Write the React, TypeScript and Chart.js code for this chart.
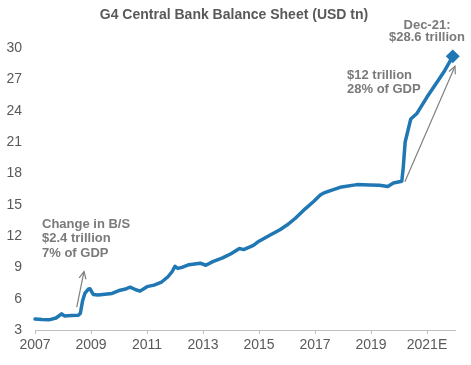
import { useEffect, useRef } from "react";
import { Chart, registerables } from "chart.js";

Chart.register(...registerables);

const dates = [
  2007.0, 2007.25, 2007.5, 2007.75, 2007.95, 2008.05, 2008.3, 2008.55, 2008.62, 2008.7,
  2008.78, 2008.9, 2008.96, 2009.08, 2009.25, 2009.5, 2009.75, 2010.0, 2010.2, 2010.4,
  2010.6, 2010.75, 2011.0, 2011.25, 2011.5, 2011.75, 2011.9, 2012.0, 2012.1, 2012.25,
  2012.5, 2012.9, 2013.1, 2013.35, 2013.7, 2014.0, 2014.3, 2014.45, 2014.8, 2015.0,
  2015.4, 2015.75, 2016.0, 2016.3, 2016.65, 2016.95, 2017.2, 2017.3, 2017.5, 2017.95,
  2018.5, 2018.95, 2019.3, 2019.6, 2019.8, 2020.1, 2020.15, 2020.22, 2020.42, 2020.63,
  2021.0, 2021.35, 2021.6, 2021.92,
];
const values = [
  4.05, 4.0, 3.97, 4.15, 4.55, 4.35, 4.38, 4.42, 4.6, 5.8,
  6.5, 6.9, 6.95, 6.4, 6.35, 6.42, 6.5, 6.78, 6.9, 7.1,
  6.85, 6.72, 7.15, 7.3, 7.55, 8.1, 8.6, 9.1, 8.9, 9.0,
  9.25, 9.4, 9.2, 9.55, 9.9, 10.3, 10.8, 10.7, 11.1, 11.5,
  12.1, 12.6, 13.05, 13.7, 14.6, 15.3, 15.95, 16.1, 16.3, 16.7,
  16.92, 16.88, 16.85, 16.75, 17.08, 17.25, 18.5, 21.0, 23.2, 23.7,
  25.3, 26.7, 27.7, 29.2,
];

const xTickYears = [2007, 2009, 2011, 2013, 2015, 2017, 2019, 2021];
const xTickLabels = ["2007", "2009", "2011", "2013", "2015", "2017", "2019", "2021E"];
const xMin = 2007;
const xMax = 2022;
const yMin = 3;
const yMax = 30;
const yStep = 3;

const title = "G4 Central Bank Balance Sheet (USD tn)";
const note1 = ["Change in B/S", "$2.4 trillion", "7% of GDP"];
const note2 = ["$12 trillion", "28% of GDP"];
const note3 = ["Dec-21:", "$28.6 trillion"];
// arrows in data space: [x0, y0, x1, y1]
const arrow1 = [2008.49, 5.2, 2008.75, 8.6];
const arrow2 = [2020.21, 17.2, 2022.0, 28.25];

const FONT = "'Liberation Sans', Arial, sans-serif";
const LINE_COLOR = "#1f77b4";

export default function App() {
  const ref = useRef<HTMLCanvasElement | null>(null);

  useEffect(() => {
    document.body.style.margin = "0";
    const canvas = ref.current;
    if (!canvas) return;

    const drawArrow = (ctx: CanvasRenderingContext2D, x0: number, y0: number, x1: number, y1: number) => {
      ctx.save();
      ctx.strokeStyle = "#808080";
      ctx.lineWidth = 1.2;
      ctx.beginPath();
      ctx.moveTo(x0, y0);
      ctx.lineTo(x1, y1);
      ctx.stroke();
      const ang = Math.atan2(y1 - y0, x1 - x0);
      const len = 8;
      const spread = 0.45;
      ctx.beginPath();
      ctx.moveTo(x1 - len * Math.cos(ang - spread), y1 - len * Math.sin(ang - spread));
      ctx.lineTo(x1, y1);
      ctx.lineTo(x1 - len * Math.cos(ang + spread), y1 - len * Math.sin(ang + spread));
      ctx.stroke();
      ctx.restore();
    };

    const annot = {
      id: "annot",
      afterDatasetsDraw(chart: any) {
        const ctx = chart.ctx as CanvasRenderingContext2D;
        const xs = chart.scales.x;
        const ys = chart.scales.y;
        ctx.save();
        ctx.textBaseline = "middle";
        ctx.fillStyle = "#595959";
        ctx.font = `bold 14px ${FONT}`;
        ctx.textAlign = "center";
        ctx.fillText(title, 234, 15);

        ctx.font = `bold 13px ${FONT}`;
        ctx.fillStyle = "#7a7a7a";
        ctx.textAlign = "left";
        note1.forEach((t, i) => ctx.fillText(t, 42, 224 + i * 14.5));
        note2.forEach((t, i) => ctx.fillText(t, 347, 75 + i * 14.3));
        ctx.textAlign = "center";
        note3.forEach((t, i) => ctx.fillText(t, 427, 25 + i * 12));
        ctx.restore();

        drawArrow(ctx, xs.getPixelForValue(arrow1[0]), ys.getPixelForValue(arrow1[1]), xs.getPixelForValue(arrow1[2]), ys.getPixelForValue(arrow1[3]));
        drawArrow(ctx, xs.getPixelForValue(arrow2[0]), ys.getPixelForValue(arrow2[1]), xs.getPixelForValue(arrow2[2]), ys.getPixelForValue(arrow2[3]));
      },
    };

    const chart = new Chart(canvas, {
      type: "line",
      data: {
        datasets: [
          {
            data: dates.map((d, i) => ({ x: d, y: values[i] })),
            borderColor: LINE_COLOR,
            backgroundColor: LINE_COLOR,
            borderWidth: 3.5,
            tension: 0,
            borderJoinStyle: "round",
            borderCapStyle: "round",
            pointStyle: "rectRot",
            pointRadius: (c: any) => (c.dataIndex === values.length - 1 ? 4.5 : 0),
            pointHoverRadius: 0,
            clip: false,
          } as any,
        ],
      },
      options: {
        animation: false,
        responsive: false,
        events: [],
        layout: { padding: { top: 48, right: 16, bottom: 0, left: 0 } },
        plugins: { legend: { display: false }, title: { display: false }, tooltip: { enabled: false } },
        scales: {
          x: {
            type: "linear",
            min: xMin,
            max: xMax,
            afterBuildTicks: (s: any) => {
              s.ticks = xTickYears.map((v) => ({ value: v }));
            },
            afterFit: (s: any) => {
              s.height = 35;
            },
            grid: { display: true, drawOnChartArea: false, drawTicks: true, tickLength: 4, color: "#bfbfbf", lineWidth: 1 },
            border: { display: true, color: "#bfbfbf", width: 1 },
            ticks: {
              autoSkip: false,
              maxRotation: 0,
              padding: 3,
              color: "#595959",
              font: { family: FONT, size: 14 },
              callback: (v: any) => {
                const i = xTickYears.indexOf(Number(v));
                return i >= 0 ? xTickLabels[i] : "";
              },
            },
          },
          y: {
            min: yMin,
            max: yMax,
            afterFit: (s: any) => {
              s.width = 35;
            },
            grid: { display: false, drawTicks: false },
            border: { display: false },
            ticks: {
              stepSize: yStep,
              padding: 13,
              color: "#595959",
              font: { family: FONT, size: 14 },
            },
          },
        },
      },
      plugins: [annot],
    });

    return () => chart.destroy();
  }, []);

  return (
    <div style={{ width: 471, height: 365 }}>
      <canvas ref={ref} width={471} height={365} style={{ display: "block" }} />
    </div>
  );
}
